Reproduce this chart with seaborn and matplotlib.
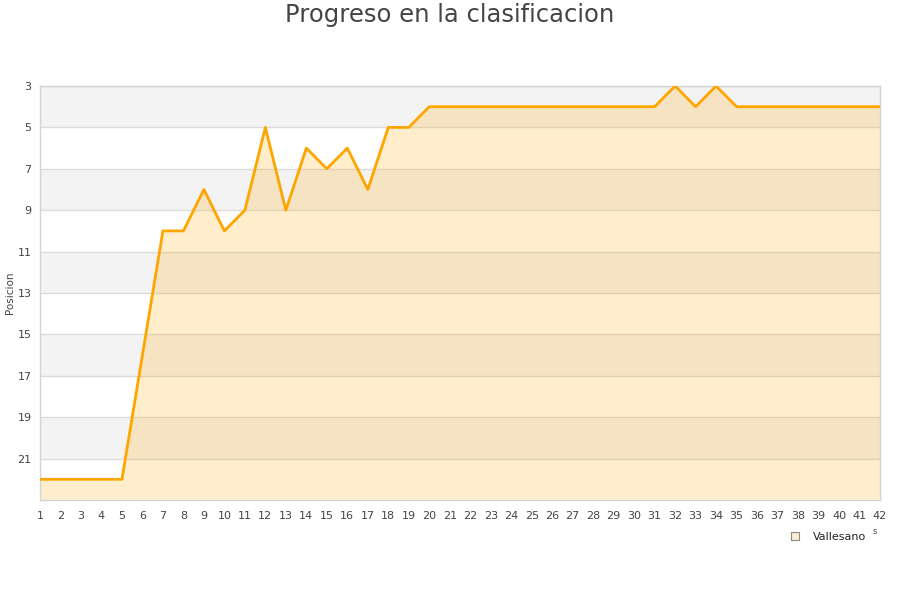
import numpy as np
import pandas as pd
import matplotlib
matplotlib.use("Agg")
import matplotlib.pyplot as plt
import seaborn as sns
from matplotlib.lines import Line2D

# Data
jornadas = list(range(1, 43))
posicion = [22, 22, 22, 22, 22, 16, 10, 10, 8, 10,
            9, 5, 9, 6, 7, 6, 8, 5, 5, 4,
            4, 4, 4, 4, 4, 4, 4, 4, 4, 4,
            4, 3, 4, 3, 4, 4, 4, 4, 4, 4,
            4, 4]
equipo = "Vallesano"
y_ticks = list(range(3, 23, 2))

df = pd.DataFrame({"Jornada": jornadas, "Posicion": posicion})

sns.set_style("white")
plt.rcParams['font.family'] = ['DejaVu Sans']

fig = plt.figure(figsize=(9, 6), dpi=100)
ax = fig.add_axes([40 / 900, 100 / 600, 840 / 900, 414 / 600])

# alternating background bands
for i, lo in enumerate(range(3, 23, 2)):
    if i % 2 == 0:
        ax.axhspan(lo, lo + 2, color="#f3f3f3", zorder=0, lw=0)
for t in y_ticks:
    ax.axhline(t, color="#dcdcdc", lw=1, zorder=1)

ax.fill_between(df["Jornada"], df["Posicion"], 23, color="orange", alpha=0.2, lw=0, zorder=2)
sns.lineplot(data=df, x="Jornada", y="Posicion", color="#FFA500", lw=2, ax=ax, zorder=3)

ax.set_xlim(1, 42)
ax.set_ylim(23, 3)
ax.set_xticks(jornadas)
ax.set_yticks(y_ticks)
ax.tick_params(axis="both", length=0, labelsize=8, colors="#444444")
ax.tick_params(axis="x", pad=8)
ax.tick_params(axis="y", pad=6)
ax.set_xlabel("")
ax.set_ylabel("")
for s in ax.spines.values():
    s.set_color("#d4d4d4")
    s.set_linewidth(1)

fig.text(10 / 900, 1 - 293 / 600, "Posicion", rotation=90, ha="center", va="center",
         fontsize=7.5, color="#444444")
fig.text(0.5, 1 - 3 / 600, "Progreso en la clasificacion", ha="center", va="top",
         fontsize=17.5, color="#444444")
fig.text(875 / 900, 1 - 531 / 600, "s", ha="center", va="center", fontsize=6, color="#444444")

handle = Line2D([], [], marker="s", linestyle="none", markersize=6,
                markerfacecolor="#ffeccc", markeredgecolor="#888888", markeredgewidth=0.8)
fig.legend([handle], [equipo], loc="center", bbox_to_anchor=(825 / 900, 1 - 537 / 600),
           frameon=False, fontsize=8, handletextpad=0.6, labelcolor="#222222")

fig.savefig("out.png", dpi=100)
